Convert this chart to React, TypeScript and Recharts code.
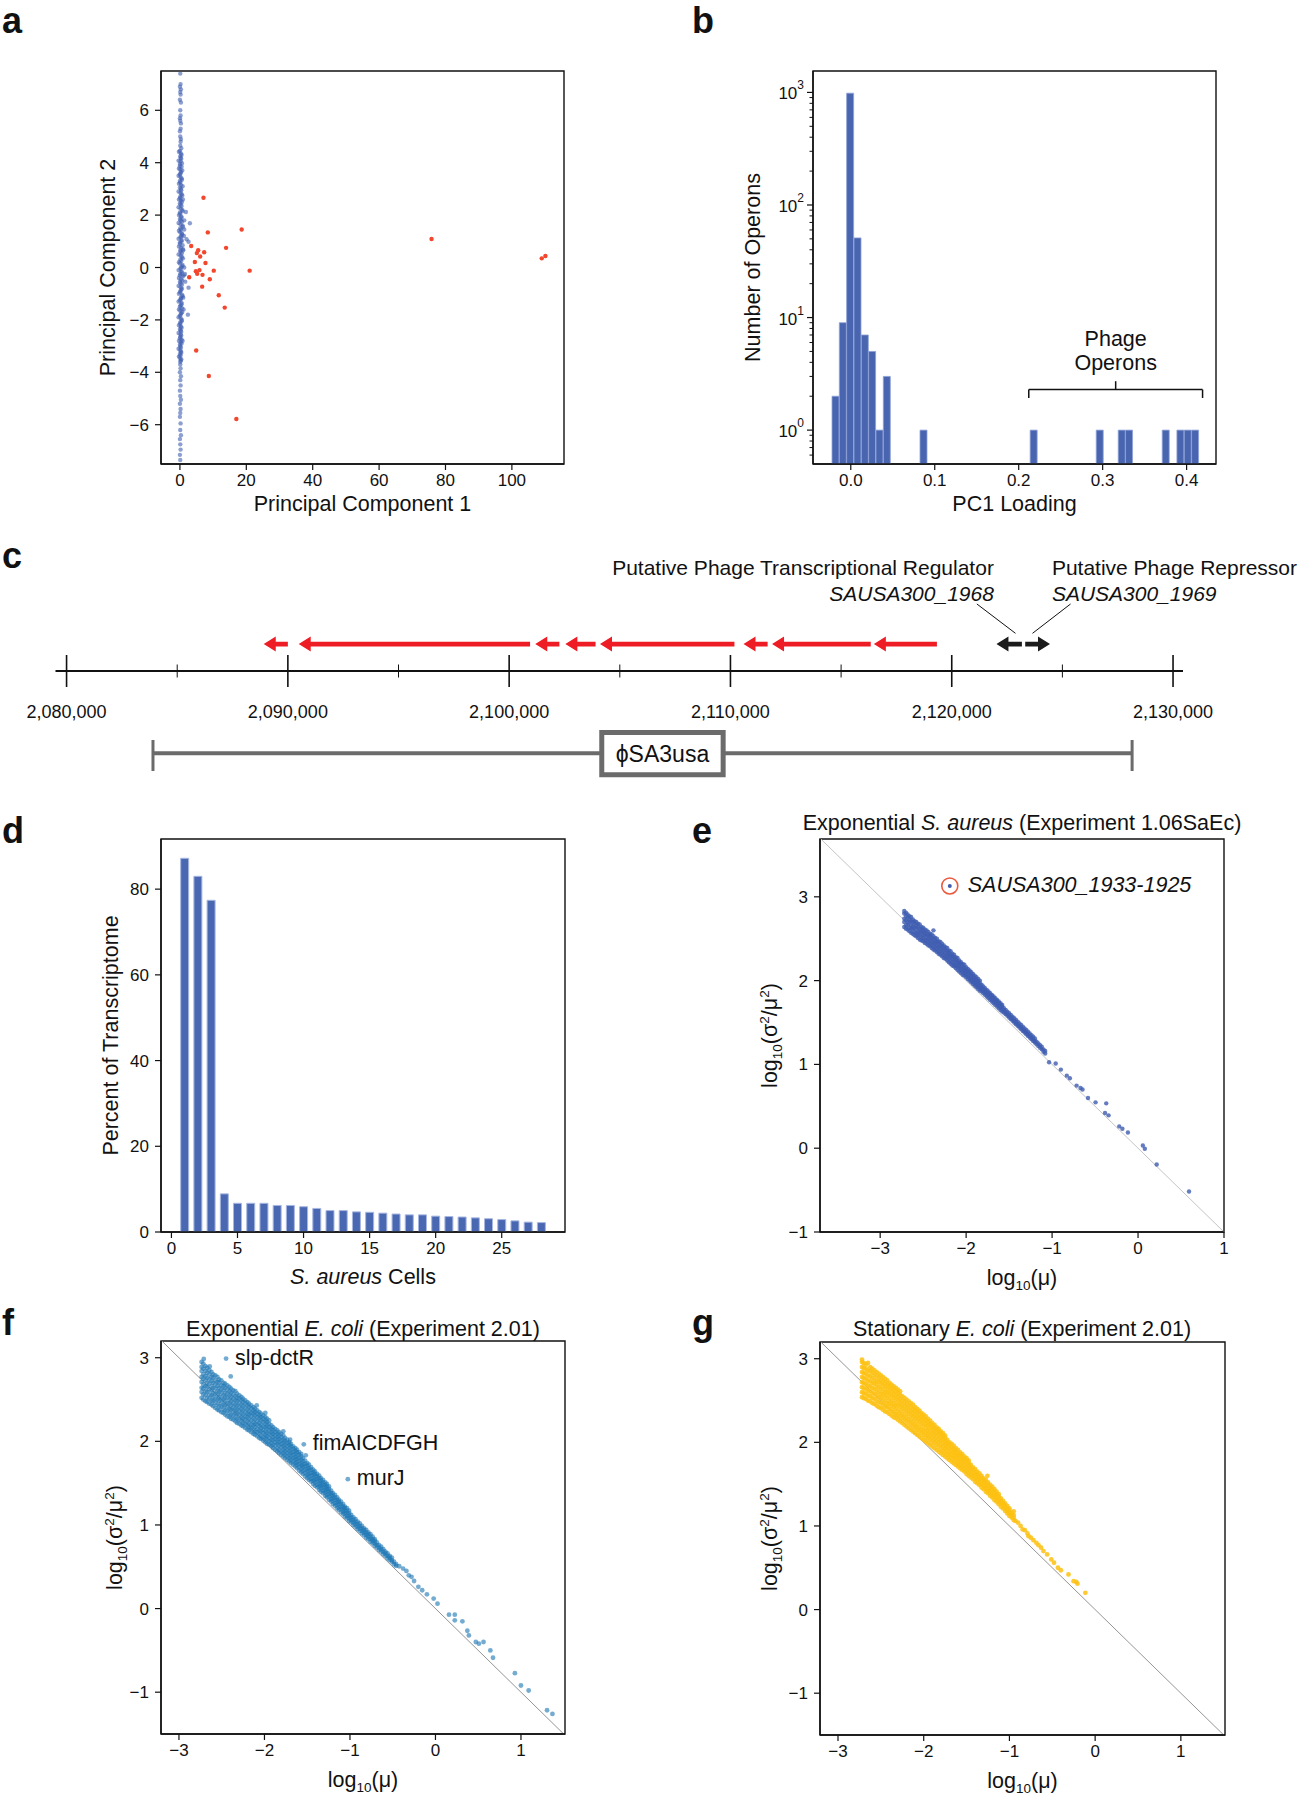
import React from "react";
import {
  ScatterChart,
  Scatter,
  BarChart,
  Bar,
  ComposedChart,
  XAxis,
  YAxis,
  ReferenceLine,
  ReferenceArea,
  ReferenceDot,
} from "recharts";

const FONT = "'Liberation Sans', Arial, Helvetica, sans-serif";
const INK = "#111";

// ---------- a: PCA of operon counts ----------
const pcaBlue = [
  [0.1, 7.4], [0.2, 7.0], [0.0, 6.9], [0.3, 6.8], [0.1, 6.7], [0.2, 6.6], [0.0, 6.4], [0.3, 6.3],
  [0.1, 6.0], [0.2, 5.8], [0.0, 5.7], [0.1, 5.6], [0.3, 5.5], [0.2, 5.3], [0.0, 5.2], [0.1, 5.0],
  [0.3, 4.9], [0.2, 4.8], [0.1, 4.65], [0.4, 4.55], [0.0, 4.45], [0.3, 4.35], [0.1, 4.25], [0.4, 4.15],
  [0.2, 4.05], [0.0, 3.95], [0.5, 3.85], [0.1, 3.75], [0.3, 3.65], [0.0, 3.55], [0.2, 3.45], [0.6, 3.35],
  [0.1, 3.25], [0.3, 3.15], [0.0, 3.05], [0.4, 2.95], [0.2, 2.85], [0.7, 2.75], [0.1, 2.65], [0.3, 2.55],
  [0.0, 2.45], [0.5, 2.35], [0.2, 2.25], [0.8, 2.15], [0.1, 2.05], [0.4, 1.95], [0.0, 1.85], [0.6, 1.75],
  [0.2, 1.65], [0.9, 1.55], [0.3, 1.45], [0.1, 1.35], [0.7, 1.25], [0.2, 1.15], [0.5, 1.05], [0.0, 0.95],
  [0.8, 0.85], [0.3, 0.75], [0.1, 0.65], [0.6, 0.55], [0.2, 0.45], [0.9, 0.35], [0.4, 0.25], [0.0, 0.15],
  [0.7, 0.05], [0.2, -0.05], [0.5, -0.15], [0.1, -0.25], [0.8, -0.35], [0.3, -0.45], [0.0, -0.55], [0.6, -0.65],
  [0.2, -0.75], [0.4, -0.85], [0.1, -0.95], [0.7, -1.05], [0.3, -1.15], [0.0, -1.25], [0.5, -1.35], [0.2, -1.45],
  [0.6, -1.55], [0.1, -1.65], [0.4, -1.75], [0.0, -1.85], [0.3, -1.95], [0.5, -2.05], [0.1, -2.15], [0.3, -2.25],
  [0.0, -2.35], [0.4, -2.45], [0.2, -2.55], [0.1, -2.65], [0.5, -2.75], [0.2, -2.85], [0.0, -2.95], [0.3, -3.05],
  [0.1, -3.15], [0.4, -3.25], [0.2, -3.35], [0.0, -3.45], [0.3, -3.55], [0.1, -3.7], [0.2, -3.85], [0.0, -4.0],
  [0.3, -4.15], [0.1, -4.3], [0.2, -4.5], [0.0, -4.7], [0.1, -4.9], [0.3, -5.05], [0.0, -5.2], [0.2, -5.4],
  [0.1, -5.55], [0.0, -5.7], [0.2, -5.95], [0.1, -6.2], [0.3, -6.4], [0.0, -6.55], [0.1, -6.75], [0.2, -6.95],
  [0.0, -7.15], [0.1, -7.35],
  [-0.3, 4.42], [0.5, 4.3], [0.2, 4.18], [-0.4, 4.08], [0.6, 3.98], [0.0, 3.88], [-0.3, 3.78], [0.7, 3.7],
  [0.2, 3.6], [-0.4, 3.5], [0.5, 3.4], [0.0, 3.3], [-0.3, 3.2], [0.8, 3.1], [0.3, 3.0], [-0.4, 2.9],
  [0.5, 2.8], [0.1, 2.7], [-0.3, 2.6], [0.6, 2.5], [0.2, 2.4], [-0.4, 2.3], [0.7, 2.2], [0.0, 2.1],
  [-0.3, 2.0], [0.5, 1.9], [0.2, 1.8], [-0.4, 1.7], [0.8, 1.6], [0.1, 1.5], [-0.3, 1.4], [0.6, 1.3],
  [0.3, 1.2], [-0.4, 1.1], [0.5, 1.0], [0.0, 0.9], [-0.3, 0.8], [0.9, 0.7], [0.2, 0.6], [-0.4, 0.5],
  [0.6, 0.4], [0.1, 0.3], [-0.3, 0.2], [0.8, 0.1], [0.3, 0.0], [-0.4, -0.1], [0.5, -0.2], [0.0, -0.3],
  [-0.3, -0.4], [0.7, -0.5], [0.2, -0.6], [-0.4, -0.7], [0.6, -0.8], [0.1, -0.9], [-0.3, -1.0], [0.8, -1.1],
  [0.3, -1.2], [-0.4, -1.3], [0.5, -1.4], [0.0, -1.5], [-0.3, -1.6], [0.7, -1.7], [0.2, -1.8], [-0.4, -1.9],
  [0.6, -2.0], [0.1, -2.1], [-0.3, -2.2], [0.5, -2.3], [0.2, -2.4], [-0.4, -2.5], [0.4, -2.6], [0.0, -2.7],
  [-0.3, -2.8], [0.5, -2.9], [0.1, -3.0], [-0.4, -3.1], [0.3, -3.2], [0.0, -3.3], [-0.3, -3.4], [0.4, -3.5],
  [0.1, -3.6],
  [1.8, 2.12], [3.0, 1.69], [1.3, 1.8], [1.3, 1.45], [2.6, 0.98], [2.0, 1.08], [1.0, 0.66], [1.6, -0.54],
  [2.6, -0.77], [2.4, -1.8], [1.0, -1.15], [1.3, 0.0], [1.5, -0.25], [0.8, -2.8], [1.2, -0.3], [1.1, -1.6],
  [0.9, 2.6], [1.2, 1.2],
];
const pcaRed = [
  [7.1, 2.66], [8.4, 1.34], [18.6, 1.45], [3.4, 0.82], [13.9, 0.75], [5.5, 0.66], [5.1, 0.55], [7.3, 0.58],
  [6.1, 0.42], [4.5, 0.21], [7.7, 0.17], [4.8, -0.14], [5.9, -0.1], [5.2, -0.24], [6.8, -0.28], [10.2, -0.12],
  [21.0, -0.12], [2.8, -0.37], [9.0, -0.45], [6.7, -0.73], [11.7, -1.06], [13.5, -1.53], [4.9, -3.17],
  [8.7, -4.14], [17.0, -5.78], [75.8, 1.09], [109.0, 0.35], [110.1, 0.44],
];
const pcaXTicks = [0, 20, 40, 60, 80, 100];
const pcaYTicks = [-6, -4, -2, 0, 2, 4, 6];

// ---------- b: PC1 loading histogram ----------
const pc1BinCenters = [
  -0.018, -0.0093, -0.0006, 0.0082, 0.0169, 0.0256, 0.0344, 0.0431, 0.0868,
  0.218, 0.2967, 0.3229, 0.3316, 0.3753, 0.3928, 0.4015, 0.4103,
];
const operonCounts = [2, 9, 985, 51, 7, 5, 1, 3, 1, 1, 1, 1, 1, 1, 1, 1, 1];
const pc1XTicks = [0, 0.1, 0.2, 0.3, 0.4];
const countTicks = [
  0.6, 0.7, 0.8, 0.9, 1, 2, 3, 4, 5, 6, 7, 8, 9, 10, 20, 30, 40, 50, 60, 70, 80, 90,
  100, 200, 300, 400, 500, 600, 700, 800, 900, 1000,
];

// ---------- c: genomic region ----------
const geneStarts = [2088910, 2090490, 2101180, 2102540, 2104105, 2110590, 2111880, 2116480, 2122020, 2123320];
const geneEnds = [2090000, 2100945, 2102270, 2103905, 2110180, 2111680, 2116340, 2119330, 2123170, 2124440];
const geneStrands = ["-", "-", "-", "-", "-", "-", "-", "-", "-", "+"];
const geneIsRegulator = [false, false, false, false, false, false, false, false, true, true];
const genomeTicks = [
  2080000, 2085000, 2090000, 2095000, 2100000, 2105000, 2110000, 2115000, 2120000, 2125000, 2130000,
];
const phageStart = 2083905;
const phageEnd = 2128150;
const phageName = "\u03D5SA3usa";

// ---------- d: phage share of transcriptome ----------
const cellRank = [
  1, 2, 3, 4, 5, 6, 7, 8, 9, 10, 11, 12, 13, 14, 15, 16, 17, 18, 19, 20, 21, 22, 23, 24, 25, 26, 27, 28,
];
const phagePercent = [
  87.2, 83.0, 77.4, 8.9, 6.7, 6.7, 6.7, 6.2, 6.2, 5.9, 5.5, 5.0, 5.0, 4.7, 4.6, 4.4, 4.2, 4.0, 4.0, 3.7,
  3.6, 3.5, 3.3, 3.1, 2.9, 2.6, 2.3, 2.2,
];
const cellTicks = [0, 5, 10, 15, 20, 25];
const pctTicks = [0, 20, 40, 60, 80];

// ---------- e: exponential S. aureus; each row is [log10 mu, log10 CV2 values...] ----------
const saExpCore = [
  [-2.72, 2.64, 2.7, 2.74, 2.8, 2.83], [-2.7, 2.62, 2.66, 2.72, 2.77, 2.81], [-2.68, 2.61, 2.66, 2.7, 2.75, 2.79],
  [-2.66, 2.59, 2.63, 2.69, 2.73, 2.77], [-2.64, 2.57, 2.62, 2.66, 2.71, 2.76], [-2.62, 2.56, 2.61, 2.65, 2.7, 2.73],
  [-2.6, 2.54, 2.58, 2.63, 2.68, 2.71], [-2.58, 2.53, 2.57, 2.62, 2.66, 2.7], [-2.56, 2.51, 2.55, 2.59, 2.64, 2.68],
  [-2.54, 2.49, 2.54, 2.58, 2.62, 2.67], [-2.52, 2.48, 2.52, 2.57, 2.61, 2.64], [-2.5, 2.47, 2.51, 2.55, 2.59, 2.63],
  [-2.48, 2.45, 2.49, 2.54, 2.57, 2.61], [-2.46, 2.44, 2.48, 2.52, 2.56, 2.6], [-2.44, 2.42, 2.46, 2.5, 2.54, 2.58],
  [-2.42, 2.41, 2.45, 2.49, 2.53, 2.56], [-2.4, 2.39, 2.43, 2.47, 2.51, 2.55], [-2.38, 2.37, 2.41, 2.45, 2.49, 2.53, 2.6],
  [-2.36, 2.36, 2.4, 2.44, 2.47, 2.51], [-2.34, 2.34, 2.38, 2.42, 2.46, 2.5], [-2.32, 2.32, 2.36, 2.4, 2.44, 2.47],
  [-2.3, 2.31, 2.35, 2.39, 2.42, 2.46], [-2.28, 2.29, 2.33, 2.37, 2.41, 2.44], [-2.26, 2.27, 2.31, 2.35, 2.39, 2.42],
  [-2.24, 2.26, 2.29, 2.33, 2.37, 2.4], [-2.22, 2.24, 2.28, 2.31, 2.35, 2.39], [-2.2, 2.22, 2.26, 2.3, 2.33, 2.36],
  [-2.18, 2.2, 2.24, 2.28, 2.31, 2.35], [-2.16, 2.18, 2.22, 2.26, 2.29, 2.32], [-2.14, 2.17, 2.2, 2.24, 2.28, 2.31],
  [-2.12, 2.15, 2.18, 2.22, 2.25, 2.28], [-2.1, 2.13, 2.17, 2.2, 2.23, 2.27], [-2.08, 2.11, 2.15, 2.18, 2.21, 2.24],
  [-2.06, 2.09, 2.13, 2.16, 2.2, 2.22], [-2.04, 2.07, 2.11, 2.14, 2.17, 2.2], [-2.02, 2.06, 2.09, 2.12, 2.15, 2.19],
  [-2.0, 2.04, 2.07, 2.1, 2.13, 2.16], [-1.98, 2.02, 2.05, 2.08, 2.11, 2.14], [-1.96, 2.0, 2.03, 2.06, 2.1, 2.12],
  [-1.94, 1.98, 2.01, 2.04, 2.07, 2.1], [-1.92, 1.96, 1.99, 2.02, 2.05, 2.08], [-1.9, 1.94, 1.97, 2.0, 2.03, 2.06],
  [-1.88, 1.92, 1.95, 1.98, 2.01, 2.04], [-1.86, 1.9, 1.93, 1.96, 1.99, 2.02], [-1.84, 1.88, 1.91, 1.94, 1.97, 2.0],
  [-1.82, 1.87, 1.9, 1.92, 1.95], [-1.8, 1.85, 1.88, 1.9, 1.93], [-1.78, 1.83, 1.86, 1.88, 1.91],
  [-1.76, 1.81, 1.84, 1.86, 1.89], [-1.74, 1.79, 1.82, 1.85, 1.87], [-1.72, 1.77, 1.8, 1.83, 1.85],
  [-1.7, 1.75, 1.78, 1.81, 1.83], [-1.68, 1.73, 1.76, 1.79, 1.81], [-1.66, 1.71, 1.74, 1.77, 1.79],
  [-1.64, 1.69, 1.72, 1.75, 1.77], [-1.62, 1.67, 1.7, 1.73, 1.75], [-1.6, 1.65, 1.68, 1.71, 1.73],
  [-1.58, 1.63, 1.66, 1.69, 1.71], [-1.56, 1.62, 1.64, 1.67], [-1.54, 1.6, 1.62, 1.65], [-1.52, 1.58, 1.6, 1.63],
  [-1.5, 1.56, 1.58, 1.61], [-1.48, 1.54, 1.56, 1.59], [-1.46, 1.52, 1.54, 1.57], [-1.44, 1.5, 1.52, 1.55],
  [-1.42, 1.48, 1.5, 1.53], [-1.4, 1.46, 1.48, 1.51], [-1.38, 1.44, 1.46, 1.49], [-1.36, 1.42, 1.44, 1.47],
  [-1.34, 1.4, 1.42, 1.45], [-1.32, 1.38, 1.4, 1.43], [-1.3, 1.36, 1.38, 1.41], [-1.28, 1.34, 1.36, 1.39],
  [-1.26, 1.32, 1.34, 1.37], [-1.24, 1.3, 1.32, 1.35], [-1.22, 1.28, 1.3, 1.33], [-1.2, 1.26, 1.28, 1.31],
  [-1.18, 1.24, 1.27], [-1.16, 1.22, 1.25], [-1.14, 1.2, 1.23], [-1.12, 1.18, 1.21], [-1.1, 1.15, 1.18],
  [-1.08, 1.13, 1.16],
];
const saExpTail = [
  [-1.035, 1.026], [-0.958, 1.01], [-0.898, 0.938], [-0.829, 0.866], [-0.793, 0.834], [-0.715, 0.747],
  [-0.669, 0.719], [-0.646, 0.7], [-0.582, 0.6], [-0.494, 0.547], [-0.37, 0.535], [-0.384, 0.42],
  [-0.343, 0.392], [-0.219, 0.26], [-0.182, 0.232], [-0.118, 0.188], [0.056, 0.033], [0.079, -0.007],
  [0.217, -0.194], [0.593, -0.517],
];
const saHighlight = { name: "SAUSA300_1933-1925", x: -2.19, y: 3.13 };

// ---------- f: exponential E. coli ----------
const ecExpCore = [
  [-2.735, 2.52, 2.59, 2.64, 2.71, 2.77, 2.84, 2.89, 2.95], [-2.715, 2.5, 2.56, 2.63, 2.68, 2.75, 2.8, 2.87, 2.93],
  [-2.69, 2.48, 2.55, 2.6, 2.66, 2.73, 2.78, 2.84, 2.9], [-2.67, 2.47, 2.52, 2.59, 2.65, 2.7, 2.76, 2.82, 2.88],
  [-2.645, 2.45, 2.51, 2.56, 2.62, 2.69, 2.74, 2.8, 2.85], [-2.62, 2.44, 2.49, 2.55, 2.61, 2.66, 2.72, 2.77, 2.83],
  [-2.6, 2.42, 2.48, 2.53, 2.58, 2.64, 2.7, 2.76, 2.8], [-2.575, 2.4, 2.46, 2.51, 2.57, 2.63, 2.68, 2.73, 2.79],
  [-2.55, 2.38, 2.44, 2.5, 2.55, 2.6, 2.66, 2.71, 2.77], [-2.53, 2.37, 2.42, 2.48, 2.53, 2.59, 2.64, 2.7, 2.74],
  [-2.505, 2.35, 2.41, 2.46, 2.51, 2.57, 2.62, 2.67, 2.73], [-2.48, 2.34, 2.39, 2.44, 2.5, 2.55, 2.61, 2.66, 2.7],
  [-2.46, 2.32, 2.37, 2.43, 2.48, 2.53, 2.58, 2.64, 2.69], [-2.435, 2.3, 2.36, 2.41, 2.46, 2.52, 2.57, 2.62, 2.67],
  [-2.41, 2.29, 2.34, 2.39, 2.45, 2.5, 2.55, 2.6, 2.65], [-2.39, 2.27, 2.32, 2.38, 2.43, 2.48, 2.53, 2.58, 2.63],
  [-2.365, 2.26, 2.31, 2.36, 2.41, 2.46, 2.51, 2.56, 2.61], [-2.34, 2.24, 2.29, 2.34, 2.39, 2.44, 2.49, 2.54, 2.6],
  [-2.32, 2.22, 2.27, 2.33, 2.38, 2.43, 2.48, 2.52, 2.57], [-2.295, 2.21, 2.26, 2.31, 2.36, 2.41, 2.46, 2.51, 2.55],
  [-2.27, 2.19, 2.24, 2.29, 2.34, 2.39, 2.44, 2.49, 2.53], [-2.25, 2.18, 2.22, 2.27, 2.32, 2.37, 2.42, 2.47, 2.51],
  [-2.225, 2.16, 2.21, 2.26, 2.3, 2.35, 2.4, 2.45, 2.49], [-2.2, 2.14, 2.19, 2.24, 2.29, 2.33, 2.38, 2.43, 2.47],
  [-2.18, 2.13, 2.17, 2.22, 2.27, 2.32, 2.36, 2.41, 2.45], [-2.155, 2.11, 2.16, 2.2, 2.25, 2.3, 2.34, 2.39, 2.43],
  [-2.13, 2.09, 2.14, 2.19, 2.23, 2.28, 2.33, 2.37, 2.41], [-2.11, 2.08, 2.12, 2.17, 2.21, 2.26, 2.31, 2.35, 2.39],
  [-2.085, 2.06, 2.11, 2.15, 2.2, 2.24, 2.29, 2.33, 2.37], [-2.06, 2.04, 2.09, 2.13, 2.18, 2.22, 2.27, 2.31, 2.35],
  [-2.04, 2.03, 2.07, 2.12, 2.16, 2.2, 2.25, 2.29, 2.33], [-2.015, 2.01, 2.05, 2.1, 2.14, 2.18, 2.23, 2.27, 2.31],
  [-1.99, 1.99, 2.04, 2.08, 2.12, 2.17, 2.21, 2.25, 2.29], [-1.97, 1.97, 2.02, 2.06, 2.1, 2.15, 2.19, 2.23, 2.27],
  [-1.945, 1.96, 2.0, 2.04, 2.09, 2.13, 2.17, 2.21, 2.25], [-1.92, 1.94, 1.98, 2.02, 2.07, 2.11, 2.15, 2.19],
  [-1.9, 1.92, 1.96, 2.01, 2.05, 2.09, 2.13, 2.17], [-1.875, 1.9, 1.95, 1.99, 2.03, 2.07, 2.11, 2.15],
  [-1.85, 1.88, 1.92, 1.97, 2.01, 2.05, 2.09, 2.13], [-1.83, 1.86, 1.9, 1.95, 1.99, 2.03, 2.07, 2.11],
  [-1.805, 1.84, 1.88, 1.93, 1.97, 2.01, 2.05, 2.09], [-1.78, 1.82, 1.86, 1.9, 1.94, 1.98, 2.02, 2.07],
  [-1.76, 1.8, 1.84, 1.88, 1.92, 1.96, 2.0, 2.04], [-1.735, 1.78, 1.82, 1.86, 1.9, 1.94, 1.98, 2.02],
  [-1.71, 1.76, 1.8, 1.84, 1.88, 1.92, 1.96, 1.99], [-1.69, 1.74, 1.78, 1.82, 1.86, 1.9, 1.94, 1.97],
  [-1.665, 1.72, 1.76, 1.8, 1.84, 1.87, 1.91, 1.94], [-1.64, 1.7, 1.74, 1.78, 1.81, 1.85, 1.89, 1.92],
  [-1.62, 1.68, 1.72, 1.75, 1.79, 1.83, 1.87, 1.9], [-1.595, 1.65, 1.69, 1.73, 1.77, 1.8, 1.84, 1.87],
  [-1.57, 1.63, 1.67, 1.71, 1.74, 1.78, 1.82, 1.85], [-1.55, 1.61, 1.65, 1.69, 1.72, 1.76, 1.8],
  [-1.525, 1.58, 1.62, 1.66, 1.7, 1.73, 1.77], [-1.5, 1.56, 1.6, 1.64, 1.67, 1.71, 1.74],
  [-1.48, 1.54, 1.58, 1.61, 1.65, 1.68, 1.72], [-1.455, 1.52, 1.55, 1.59, 1.62, 1.66, 1.69],
  [-1.43, 1.49, 1.53, 1.56, 1.6, 1.63, 1.66], [-1.41, 1.47, 1.51, 1.54, 1.58, 1.61, 1.64],
  [-1.385, 1.45, 1.48, 1.52, 1.55, 1.58, 1.61], [-1.36, 1.42, 1.46, 1.49, 1.53, 1.56, 1.59],
  [-1.34, 1.4, 1.44, 1.47, 1.5, 1.53, 1.56], [-1.315, 1.38, 1.41, 1.45, 1.48, 1.51, 1.54],
  [-1.29, 1.35, 1.39, 1.42, 1.45, 1.48, 1.51], [-1.27, 1.33, 1.36, 1.4, 1.43, 1.46, 1.49],
  [-1.245, 1.3, 1.34, 1.37, 1.4, 1.43, 1.46], [-1.22, 1.28, 1.31, 1.35, 1.38, 1.41],
  [-1.2, 1.25, 1.29, 1.32, 1.35, 1.38], [-1.175, 1.23, 1.26, 1.3, 1.33, 1.36],
  [-1.15, 1.2, 1.24, 1.27, 1.3, 1.33], [-1.13, 1.18, 1.21, 1.25, 1.28, 1.3],
  [-1.105, 1.15, 1.19, 1.22, 1.25, 1.28], [-1.08, 1.13, 1.16, 1.19, 1.22, 1.25],
  [-1.06, 1.1, 1.14, 1.17, 1.2, 1.22], [-1.035, 1.08, 1.11, 1.14, 1.17, 1.2],
  [-1.01, 1.05, 1.08, 1.11, 1.14, 1.17], [-0.985, 1.03, 1.06, 1.09, 1.12], [-0.96, 1.0, 1.03, 1.06, 1.09],
  [-0.935, 0.98, 1.01, 1.04, 1.07], [-0.91, 0.95, 0.98, 1.01, 1.04], [-0.885, 0.93, 0.96, 0.99, 1.02],
  [-0.86, 0.9, 0.93, 0.96, 0.99], [-0.835, 0.88, 0.91, 0.94, 0.96], [-0.81, 0.85, 0.88, 0.91, 0.94],
  [-0.785, 0.83, 0.86, 0.89, 0.91], [-0.76, 0.8, 0.83, 0.86, 0.89], [-0.735, 0.78, 0.81, 0.83, 0.86],
  [-0.71, 0.75, 0.78, 0.81, 0.83], [-0.685, 0.73, 0.76, 0.79], [-0.66, 0.7, 0.73, 0.76],
  [-0.635, 0.68, 0.71, 0.74], [-0.61, 0.65, 0.68, 0.71], [-0.585, 0.63, 0.66, 0.68], [-0.56, 0.6, 0.63, 0.66],
  [-0.535, 0.58, 0.61, 0.63], [-0.51, 0.56, 0.58, 0.61], [-0.485, 0.53, 0.56], [-0.46, 0.51, 0.53],
];
const ecExpTail = [
  [-0.424, 0.506], [-0.379, 0.478], [-0.34, 0.45], [-0.312, 0.398], [-0.28, 0.38], [-0.25, 0.33],
  [-0.2, 0.26], [-0.155, 0.219], [-0.1, 0.17], [-0.021, 0.119], [0.024, 0.059], [0.158, -0.073],
  [0.226, -0.073], [0.226, -0.141], [0.315, -0.153], [0.373, -0.265], [0.391, -0.321], [0.472, -0.4],
  [0.508, -0.42], [0.562, -0.4], [0.642, -0.5], [0.673, -0.588], [0.929, -0.772], [1.0, -0.92],
  [1.09, -0.98], [1.305, -1.216], [1.368, -1.26], [-2.71, 2.986], [-2.64, 2.896], [-2.395, 2.776],
  [-2.09, 2.43], [-1.99, 2.34], [-1.78, 2.12], [-1.7, 2.02], [-1.517, 1.833],
];
const ecExpGenes = [
  { name: "slp-dctR", x: -2.449, y: 2.99 },
  { name: "fimAICDFGH", x: -1.54, y: 1.964 },
  { name: "murJ", x: -1.025, y: 1.548 },
];

// ---------- g: stationary E. coli ----------
const ecStatCore = [
  [-2.72, 2.54, 2.6, 2.66, 2.72, 2.78, 2.84, 2.9, 2.96, 2.99], [-2.7, 2.53, 2.59, 2.65, 2.71, 2.77, 2.83, 2.89, 2.95],
  [-2.675, 2.52, 2.58, 2.64, 2.7, 2.76, 2.82, 2.88, 2.93], [-2.65, 2.5, 2.56, 2.62, 2.68, 2.74, 2.8, 2.86, 2.95],
  [-2.625, 2.49, 2.55, 2.61, 2.67, 2.73, 2.79, 2.85, 2.9], [-2.6, 2.47, 2.53, 2.59, 2.65, 2.71, 2.77, 2.83, 2.88],
  [-2.575, 2.46, 2.52, 2.58, 2.64, 2.7, 2.75, 2.81, 2.86], [-2.55, 2.44, 2.5, 2.56, 2.62, 2.68, 2.73, 2.79, 2.84],
  [-2.525, 2.42, 2.48, 2.54, 2.6, 2.66, 2.72, 2.77, 2.82], [-2.5, 2.41, 2.47, 2.53, 2.58, 2.64, 2.7, 2.75, 2.8],
  [-2.475, 2.39, 2.45, 2.51, 2.57, 2.62, 2.68, 2.73, 2.78], [-2.45, 2.37, 2.43, 2.49, 2.55, 2.6, 2.66, 2.71, 2.76],
  [-2.425, 2.36, 2.42, 2.47, 2.53, 2.59, 2.64, 2.69, 2.74], [-2.4, 2.34, 2.4, 2.46, 2.51, 2.57, 2.62, 2.67, 2.71],
  [-2.375, 2.32, 2.38, 2.44, 2.49, 2.55, 2.6, 2.65, 2.69], [-2.35, 2.3, 2.36, 2.42, 2.47, 2.53, 2.58, 2.63, 2.67],
  [-2.325, 2.29, 2.34, 2.4, 2.45, 2.51, 2.56, 2.61, 2.65], [-2.3, 2.27, 2.33, 2.38, 2.44, 2.49, 2.54, 2.59, 2.63],
  [-2.275, 2.25, 2.31, 2.36, 2.42, 2.47, 2.52, 2.57, 2.61], [-2.25, 2.23, 2.29, 2.34, 2.4, 2.45, 2.5, 2.55],
  [-2.225, 2.21, 2.27, 2.32, 2.38, 2.43, 2.48, 2.53], [-2.2, 2.19, 2.25, 2.3, 2.36, 2.41, 2.46, 2.51],
  [-2.175, 2.17, 2.23, 2.28, 2.34, 2.39, 2.44, 2.49], [-2.15, 2.15, 2.21, 2.26, 2.32, 2.37, 2.42, 2.47],
  [-2.125, 2.13, 2.19, 2.24, 2.3, 2.35, 2.4, 2.45], [-2.1, 2.11, 2.17, 2.22, 2.28, 2.33, 2.38, 2.42],
  [-2.075, 2.09, 2.15, 2.2, 2.26, 2.31, 2.36, 2.4], [-2.05, 2.07, 2.13, 2.18, 2.24, 2.29, 2.34, 2.38],
  [-2.025, 2.05, 2.11, 2.16, 2.22, 2.27, 2.31, 2.35], [-2.0, 2.03, 2.09, 2.14, 2.2, 2.25, 2.29, 2.33],
  [-1.975, 2.01, 2.07, 2.12, 2.17, 2.22, 2.27, 2.31], [-1.95, 1.99, 2.05, 2.1, 2.15, 2.2, 2.24, 2.28],
  [-1.925, 1.97, 2.03, 2.08, 2.13, 2.18, 2.22, 2.26], [-1.9, 1.95, 2.01, 2.06, 2.11, 2.16, 2.2, 2.23],
  [-1.875, 1.93, 1.99, 2.04, 2.09, 2.13, 2.17, 2.21], [-1.85, 1.91, 1.97, 2.02, 2.07, 2.11, 2.15, 2.18],
  [-1.825, 1.89, 1.95, 2.0, 2.04, 2.09, 2.13, 2.16], [-1.8, 1.87, 1.92, 1.97, 2.02, 2.06, 2.1, 2.13],
  [-1.775, 1.85, 1.9, 1.95, 2.0, 2.04, 2.08, 2.11], [-1.75, 1.83, 1.88, 1.93, 1.97, 2.01, 2.05, 2.08],
  [-1.725, 1.81, 1.86, 1.91, 1.95, 1.99, 2.03], [-1.7, 1.79, 1.84, 1.88, 1.93, 1.97, 2.0],
  [-1.675, 1.77, 1.82, 1.86, 1.9, 1.94, 1.98], [-1.65, 1.75, 1.8, 1.84, 1.88, 1.92, 1.96],
  [-1.625, 1.73, 1.78, 1.82, 1.86, 1.9, 1.93], [-1.6, 1.71, 1.75, 1.8, 1.84, 1.87, 1.91],
  [-1.575, 1.69, 1.73, 1.77, 1.81, 1.85, 1.88], [-1.55, 1.67, 1.71, 1.75, 1.79, 1.83, 1.86],
  [-1.525, 1.65, 1.69, 1.73, 1.77, 1.8, 1.83], [-1.5, 1.62, 1.66, 1.7, 1.74, 1.78, 1.81],
  [-1.475, 1.6, 1.64, 1.68, 1.72, 1.75, 1.78], [-1.45, 1.58, 1.62, 1.66, 1.69, 1.73],
  [-1.425, 1.56, 1.6, 1.63, 1.67, 1.7], [-1.4, 1.53, 1.57, 1.61, 1.64, 1.68],
  [-1.375, 1.51, 1.55, 1.58, 1.62, 1.65], [-1.35, 1.49, 1.52, 1.56, 1.59, 1.63],
  [-1.325, 1.46, 1.5, 1.53, 1.57, 1.6], [-1.3, 1.44, 1.47, 1.51, 1.54, 1.57],
  [-1.275, 1.41, 1.45, 1.48, 1.52, 1.55], [-1.25, 1.39, 1.42, 1.46, 1.49, 1.52],
  [-1.225, 1.36, 1.4, 1.43, 1.46, 1.49], [-1.2, 1.34, 1.37, 1.4, 1.44, 1.47],
  [-1.175, 1.31, 1.35, 1.38, 1.41, 1.44], [-1.15, 1.29, 1.32, 1.35, 1.38, 1.41],
  [-1.125, 1.26, 1.29, 1.32, 1.35, 1.38], [-1.1, 1.23, 1.27, 1.3, 1.33], [-1.075, 1.21, 1.24, 1.27, 1.3],
  [-1.05, 1.18, 1.21, 1.24, 1.27], [-1.025, 1.15, 1.18, 1.21, 1.24], [-1.0, 1.12, 1.15, 1.18, 1.21],
  [-0.975, 1.1, 1.13, 1.16], [-0.95, 1.07, 1.1, 1.13],
];
const ecStatTail = [
  [-1.257, 1.6], [-0.95, 1.175], [-0.93, 1.06], [-0.9, 1.04], [-0.87, 1.0], [-0.846, 0.958], [-0.82, 0.95],
  [-0.79, 0.91], [-0.777, 0.878], [-0.75, 0.86], [-0.72, 0.83], [-0.686, 0.798], [-0.66, 0.77],
  [-0.63, 0.74], [-0.603, 0.7], [-0.56, 0.66], [-0.512, 0.6], [-0.48, 0.56], [-0.434, 0.5], [-0.4, 0.47],
  [-0.311, 0.42], [-0.251, 0.34], [-0.22, 0.33], [-0.206, 0.31], [-0.114, 0.2],
];
const logMuTicks = [-3, -2, -1, 0, 1];
const logCvTicks = [-1, 0, 1, 2, 3];

// ---------- helpers ----------
const toXY = (pts: number[][]) => pts.map(([x, y]) => ({ x, y }));
const fromRows = (rows: number[][]) => rows.flatMap(([x, ...ys]) => ys.map((y) => [x, y]));
const fmtNum = (v: number) => (v < 0 ? "\u2212" + Math.abs(v) : String(v));
const withCommas = (v: number) => String(v).replace(/\B(?=(\d{3})+(?!\d))/g, ",");

const Y_W = 80;
const X_H = 70;
const M_T = 10;
const M_R = 12;
type Box = { l: number; t: number; w: number; h: number };
const frame = (b: Box) => ({
  style: { position: "absolute" as const, left: b.l - Y_W, top: b.t - M_T },
  width: b.w + Y_W + M_R,
  height: b.h + M_T + X_H,
  margin: { top: M_T, right: M_R, bottom: 0, left: 0 },
});

const tickFont = { fontSize: 17, fill: INK, fontFamily: FONT };
const xAxisProps = {
  stroke: INK,
  tick: tickFont,
  tickSize: 6,
  tickMargin: 4,
  axisLine: { strokeWidth: 1.4 },
  tickLine: { strokeWidth: 1.2 },
  interval: 0 as const,
  allowDataOverflow: true,
  height: X_H,
};
const yAxisProps = { ...xAxisProps, tickMargin: 6, width: Y_W, height: undefined };

const xTitle = (content: React.ReactNode, base: number) => (props: any) => {
  const vb = props.viewBox;
  return (
    <text x={vb.x + vb.width / 2} y={vb.y + base} textAnchor="middle" fontSize={21.5} fontFamily={FONT} fill={INK}>
      {content}
    </text>
  );
};
const yTitle = (content: React.ReactNode, gap: number) => (props: any) => {
  const vb = props.viewBox;
  const cx = vb.x + vb.width - gap;
  const cy = vb.y + vb.height / 2;
  return (
    <text
      x={cx}
      y={cy}
      dy="0.35em"
      transform={`rotate(-90 ${cx} ${cy})`}
      textAnchor="middle"
      fontSize={21.5}
      fontFamily={FONT}
      fill={INK}
    >
      {content}
    </text>
  );
};

const dot = (r: number, fill: string, opacity = 1) => (p: any) => (
  <circle cx={p.cx} cy={p.cy} r={r} fill={fill} fillOpacity={opacity} />
);

const logMuLabel = (
  <>
    log<tspan dy={5} fontSize={13.5}>10</tspan>
    <tspan dy={-5}>(μ)</tspan>
  </>
);
const logCvLabel = (
  <>
    log<tspan dy={5} fontSize={13.5}>10</tspan>
    <tspan dy={-5}>(σ</tspan>
    <tspan dy={-8} fontSize={13.5}>2</tspan>
    <tspan dy={8}>/μ</tspan>
    <tspan dy={-8} fontSize={13.5}>2</tspan>
    <tspan dy={8}>)</tspan>
  </>
);

// ---------- panel a ----------
const boxA = { l: 161, t: 71, w: 403, h: 393 };
const aX = [-5.7, 115.7];
const aY = [-7.5, 7.5];
function PanelA() {
  const f = frame(boxA);
  return (
    <div style={f.style}>
      <ScatterChart width={f.width} height={f.height} margin={f.margin}>
        <XAxis type="number" dataKey="x" domain={aX} ticks={pcaXTicks} {...xAxisProps} label={xTitle("Principal Component 1", 47)} />
        <YAxis type="number" dataKey="y" domain={aY} ticks={pcaYTicks} tickFormatter={fmtNum} {...yAxisProps} label={yTitle("Principal Component 2", 54)} />
        <ReferenceArea x1={aX[0]} x2={aX[1]} y1={aY[0]} y2={aY[1]} fill="none" stroke={INK} strokeWidth={1.4} />
        <Scatter data={toXY(pcaBlue)} shape={dot(2.2, "#3f5fb3", 0.6)} isAnimationActive={false} />
        <Scatter data={toXY(pcaRed)} shape={dot(2.2, "#f2462d")} isAnimationActive={false} />
      </ScatterChart>
    </div>
  );
}

// ---------- panel b ----------
const boxB = { l: 813, t: 71, w: 403, h: 393 };
const bX = [-0.045, 0.435];
const bY = [0.5, 1550];
const renderLogTick = (p: any) => {
  const { x, y, payload } = p;
  const e = Math.log10(payload.value);
  const major = Math.abs(e - Math.round(e)) < 1e-9;
  return (
    <g>
      <line x1={x} x2={x - (major ? 6 : 3.5)} y1={y} y2={y} stroke={INK} strokeWidth={major ? 1.2 : 1} />
      {major && (
        <text x={x - 9} y={y} dy={7} textAnchor="end" fontSize={17} fontFamily={FONT} fill={INK}>
          10<tspan dy={-10} fontSize={12}>{Math.round(e)}</tspan>
        </text>
      )}
    </g>
  );
};
const textAt = (txt: string, size = 21.5) => (p: any) => (
  <text x={p.cx} y={p.cy} dy="0.35em" textAnchor="middle" fontSize={size} fontFamily={FONT} fill={INK}>
    {txt}
  </text>
);
function PanelB() {
  const f = frame(boxB);
  const data = pc1BinCenters.map((x, i) => ({ x, n: operonCounts[i] }));
  const bracketY = 2.29;
  const bracketFoot = 1.93;
  const bracketL = 0.212;
  const bracketR = 0.419;
  const mid = (bracketL + bracketR) / 2;
  return (
    <div style={f.style}>
      <BarChart width={f.width} height={f.height} margin={f.margin} data={data} barCategoryGap={0} barGap={0}>
        <XAxis type="number" dataKey="x" domain={bX} ticks={pc1XTicks} tickFormatter={(v: number) => v.toFixed(1)} {...xAxisProps} label={xTitle("PC1 Loading", 47)} />
        <YAxis
          type="number"
          scale="log"
          domain={bY}
          ticks={countTicks}
          allowDataOverflow
          interval={0}
          tick={renderLogTick}
          tickLine={false}
          tickSize={0}
          tickMargin={0}
          stroke={INK}
          axisLine={{ strokeWidth: 1.4 }}
          width={Y_W}
          label={yTitle("Number of Operons", 61)}
        />
        <Bar dataKey="n" fill="#4a65b0" stroke="#8ea2d8" strokeWidth={0.8} isAnimationActive={false} />
        <ReferenceArea x1={bX[0]} x2={bX[1]} y1={bY[0]} y2={bY[1]} fill="none" stroke={INK} strokeWidth={1.4} />
        <ReferenceLine segment={[{ x: bracketL, y: bracketY }, { x: bracketR, y: bracketY }]} stroke={INK} strokeWidth={1.5} />
        <ReferenceLine segment={[{ x: bracketL, y: bracketY }, { x: bracketL, y: bracketFoot }]} stroke={INK} strokeWidth={1.5} />
        <ReferenceLine segment={[{ x: bracketR, y: bracketY }, { x: bracketR, y: bracketFoot }]} stroke={INK} strokeWidth={1.5} />
        <ReferenceLine segment={[{ x: mid, y: bracketY }, { x: mid, y: 2.72 }]} stroke={INK} strokeWidth={1.5} />
        <ReferenceDot x={mid} y={6.5} r={0} shape={textAt("Phage")} />
        <ReferenceDot x={mid} y={4.0} r={0} shape={textAt("Operons")} />
      </BarChart>
    </div>
  );
}

// ---------- panel c ----------
const cDomain = [2079500, 2130450];
const laneDomain = [0, 10];
const cMargin = { top: 0, right: 122, bottom: 0, left: 55.5 };
const renderGenomeTick = (p: any) => {
  const { x, y, payload } = p;
  const v = payload.value;
  const major = v % 10000 === 0;
  const len = major ? 16 : 6.5;
  return (
    <g>
      <line x1={x} x2={x} y1={y - len} y2={y + len} stroke={INK} strokeWidth={major ? 1.6 : 1} />
      {major && (
        <text x={x} y={y + 47} textAnchor="middle" fontSize={18} fontFamily={FONT} fill={INK}>
          {withCommas(v)}
        </text>
      )}
    </g>
  );
};
const arrowShape = (color: string) => (p: any) => {
  const { x1, y1, x2 } = p;
  const dir = x2 >= x1 ? 1 : -1;
  const hl = 12;
  const hh = 7.5;
  const sw = 2.4;
  const base = x2 - dir * hl;
  const pts = [
    [x1, y1 - sw],
    [base, y1 - sw],
    [base, y1 - hh],
    [x2, y1],
    [base, y1 + hh],
    [base, y1 + sw],
    [x1, y1 + sw],
  ];
  return <polygon points={pts.map((q) => q.join(",")).join(" ")} fill={color} />;
};
const sideText = (lines: { t: string; italic?: boolean }[], anchor: "start" | "end") => (p: any) => (
  <text x={p.cx} y={p.cy} textAnchor={anchor} fontSize={21} fontFamily={FONT} fill={INK}>
    {lines.map((l, i) => (
      <tspan key={i} x={p.cx} dy={i === 0 ? 0 : 26} fontStyle={l.italic ? "italic" : "normal"}>
        {l.t}
      </tspan>
    ))}
  </text>
);
function PanelC() {
  const lane = 2.14;
  return (
    <>
      <div style={{ position: "absolute", left: 0, top: 545 }}>
        <ComposedChart width={1305} height={186} margin={cMargin}>
          <XAxis
            type="number"
            dataKey="x"
            domain={cDomain}
            allowDataOverflow
            ticks={genomeTicks}
            interval={0}
            tick={renderGenomeTick}
            tickLine={false}
            tickSize={0}
            tickMargin={0}
            axisLine={{ stroke: INK, strokeWidth: 2 }}
            height={60}
          />
          <YAxis hide type="number" domain={laneDomain} allowDataOverflow />
          {geneStarts.map((s, i) => {
            const e = geneEnds[i];
            const tail = geneStrands[i] === "-" ? e : s;
            const head = geneStrands[i] === "-" ? s : e;
            return (
              <ReferenceLine
                key={i}
                segment={[{ x: tail, y: lane }, { x: head, y: lane }]}
                shape={arrowShape(geneIsRegulator[i] ? "#1b1b1b" : "#ee1c25")}
              />
            );
          })}
          <ReferenceLine segment={[{ x: 2121135, y: 5.32 }, { x: 2122880, y: 2.99 }]} stroke={INK} strokeWidth={1} />
          <ReferenceLine segment={[{ x: 2125370, y: 5.32 }, { x: 2123650, y: 2.99 }]} stroke={INK} strokeWidth={1} />
          <ReferenceDot
            x={2121905}
            y={7.62}
            r={0}
            shape={sideText([{ t: "Putative Phage Transcriptional Regulator" }, { t: "SAUSA300_1968", italic: true }], "end")}
          />
          <ReferenceDot
            x={2124525}
            y={7.62}
            r={0}
            shape={sideText([{ t: "Putative Phage Repressor" }, { t: "SAUSA300_1969", italic: true }], "start")}
          />
        </ComposedChart>
      </div>
      <div style={{ position: "absolute", left: 0, top: 725 }}>
        <ComposedChart width={1305} height={60} margin={cMargin}>
          <XAxis hide type="number" dataKey="x" domain={cDomain} allowDataOverflow />
          <YAxis hide type="number" domain={laneDomain} allowDataOverflow />
          <ReferenceLine segment={[{ x: phageStart, y: 5.28 }, { x: 2104185, y: 5.28 }]} stroke="#6b6b6b" strokeWidth={4} />
          <ReferenceLine segment={[{ x: 2109670, y: 5.28 }, { x: phageEnd, y: 5.28 }]} stroke="#6b6b6b" strokeWidth={4} />
          <ReferenceLine segment={[{ x: phageStart, y: 7.5 }, { x: phageStart, y: 2.33 }]} stroke="#6b6b6b" strokeWidth={3} />
          <ReferenceLine segment={[{ x: phageEnd, y: 7.5 }, { x: phageEnd, y: 2.33 }]} stroke="#6b6b6b" strokeWidth={3} />
          <ReferenceArea
            x1={2104185}
            x2={2109670}
            y1={1.7}
            y2={8.75}
            fill="#fff"
            fillOpacity={1}
            stroke="#6b6b6b"
            strokeWidth={5}
            label={{ value: phageName, position: "center", fontSize: 23, fill: INK, fontFamily: FONT }}
          />
        </ComposedChart>
      </div>
    </>
  );
}

// ---------- panel d ----------
const boxD = { l: 161, t: 839, w: 404, h: 393 };
const dX = [-0.79, 29.79];
const dY = [0, 91.7];
function PanelD() {
  const f = frame(boxD);
  const data = cellRank.map((c, i) => ({ c, p: phagePercent[i] }));
  return (
    <div style={f.style}>
      <BarChart width={f.width} height={f.height} margin={f.margin} data={data} barCategoryGap="20%">
        <XAxis
          type="number"
          dataKey="c"
          domain={dX}
          ticks={cellTicks}
          {...xAxisProps}
          label={xTitle(
            <>
              <tspan fontStyle="italic">S. aureus</tspan> Cells
            </>,
            52
          )}
        />
        <YAxis type="number" domain={dY} ticks={pctTicks} {...yAxisProps} label={yTitle("Percent of Transcriptome", 51)} />
        <Bar dataKey="p" fill="#4a68b2" stroke="#a7b7e2" strokeWidth={1} isAnimationActive={false} />
        <ReferenceArea x1={dX[0]} x2={dX[1]} y1={dY[0]} y2={dY[1]} fill="none" stroke={INK} strokeWidth={1.4} />
      </BarChart>
    </div>
  );
}

// ---------- panels e, f, g ----------
type NoisePanelProps = {
  box: Box;
  xd: number[];
  yd: number[];
  pts: number[][];
  color: string;
  opacity: number;
  r: number;
  diag: string;
  yGap: number;
  children?: React.ReactNode;
};
function NoisePanel({ box, xd, yd, pts, color, opacity, r, diag, yGap, children }: NoisePanelProps) {
  const f = frame(box);
  const lo = Math.max(xd[0], -yd[1]);
  const hi = Math.min(xd[1], -yd[0]);
  return (
    <div style={f.style}>
      <ScatterChart width={f.width} height={f.height} margin={f.margin}>
        <XAxis type="number" dataKey="x" domain={xd} ticks={logMuTicks} tickFormatter={fmtNum} {...xAxisProps} label={xTitle(logMuLabel, 53)} />
        <YAxis type="number" dataKey="y" domain={yd} ticks={logCvTicks} tickFormatter={fmtNum} {...yAxisProps} label={yTitle(logCvLabel, yGap)} />
        <Scatter data={toXY(pts)} shape={dot(r, color, opacity)} isAnimationActive={false} />
        <ReferenceLine segment={[{ x: lo, y: -lo }, { x: hi, y: -hi }]} stroke={diag} strokeWidth={1} />
        <ReferenceArea x1={xd[0]} x2={xd[1]} y1={yd[0]} y2={yd[1]} fill="none" stroke={INK} strokeWidth={1.4} />
        {children}
      </ScatterChart>
    </div>
  );
}

const labelRight = (txt: string, dx: number) => (p: any) => (
  <text x={p.cx + dx} y={p.cy} dy={6} fontSize={21.5} fontFamily={FONT} fill={INK}>
    {txt}
  </text>
);
const markerShape = (p: any) => (
  <g>
    <circle cx={p.cx} cy={p.cy} r={8} fill="none" stroke="#ea5a3f" strokeWidth={1.6} />
    <circle cx={p.cx} cy={p.cy} r={2} fill="#3f5db0" />
    <text x={p.cx + 18} y={p.cy} dy={6} fontSize={21.5} fontFamily={FONT} fontStyle="italic" fill={INK}>
      {saHighlight.name}
    </text>
  </g>
);

function PanelE() {
  return (
    <NoisePanel
      box={{ l: 820, t: 839, w: 404, h: 393 }}
      xd={[-3.7, 1.0]}
      yd={[-1, 3.69]}
      pts={[...fromRows(saExpCore), ...saExpTail]}
      color="#3f5db0"
      opacity={0.8}
      r={2.2}
      diag="#c4c4c4"
      yGap={51}
    >
      <ReferenceDot x={saHighlight.x} y={saHighlight.y} r={8} shape={markerShape} />
    </NoisePanel>
  );
}
function PanelF() {
  return (
    <NoisePanel
      box={{ l: 161, t: 1341, w: 404, h: 393 }}
      xd={[-3.21, 1.515]}
      yd={[-1.5, 3.2]}
      pts={[...fromRows(ecExpCore), ...ecExpTail, ...ecExpGenes.map((g) => [g.x, g.y])]}
      color="#1f77b4"
      opacity={0.62}
      r={2.4}
      diag="#959595"
      yGap={47}
    >
      {ecExpGenes.map((g) => (
        <ReferenceDot key={g.name} x={g.x} y={g.y} r={2} shape={labelRight(g.name, 9)} />
      ))}
    </NoisePanel>
  );
}
function PanelG() {
  return (
    <NoisePanel
      box={{ l: 820, t: 1342, w: 405, h: 393 }}
      xd={[-3.21, 1.515]}
      yd={[-1.5, 3.2]}
      pts={[...fromRows(ecStatCore), ...ecStatTail]}
      color="#fdc112"
      opacity={0.85}
      r={2.4}
      diag="#959595"
      yGap={51}
    />
  );
}

// ---------- letters & titles ----------
const panelLetters = [
  { t: "a", x: 2, y: 33 },
  { t: "b", x: 692, y: 33 },
  { t: "c", x: 2, y: 568 },
  { t: "d", x: 2, y: 843 },
  { t: "e", x: 692, y: 843 },
  { t: "f", x: 2, y: 1335 },
  { t: "g", x: 692, y: 1335 },
];
const titles = [
  { x: 1022, y: 830, pre: "Exponential ", it: "S. aureus", post: " (Experiment 1.06SaEc)" },
  { x: 363, y: 1336, pre: "Exponential ", it: "E. coli", post: " (Experiment 2.01)" },
  { x: 1022, y: 1336, pre: "Stationary ", it: "E. coli", post: " (Experiment 2.01)" },
];

function Overlay() {
  return (
    <svg width={1305} height={1800} style={{ position: "absolute", left: 0, top: 0, pointerEvents: "none" }}>
      {panelLetters.map((l) => (
        <text key={l.t} x={l.x} y={l.y} fontSize={36} fontWeight="bold" fontFamily={FONT} fill={INK}>
          {l.t}
        </text>
      ))}
      {titles.map((t, i) => (
        <text key={i} x={t.x} y={t.y} textAnchor="middle" fontSize={21.5} fontFamily={FONT} fill={INK}>
          {t.pre}
          <tspan fontStyle="italic">{t.it}</tspan>
          {t.post}
        </text>
      ))}
    </svg>
  );
}

export default function App() {
  return (
    <div style={{ position: "absolute", left: 0, top: 0, width: 1305, height: 1800, background: "#fff", fontFamily: FONT }}>
      <PanelA />
      <PanelB />
      <PanelC />
      <PanelD />
      <PanelE />
      <PanelF />
      <PanelG />
      <Overlay />
    </div>
  );
}
